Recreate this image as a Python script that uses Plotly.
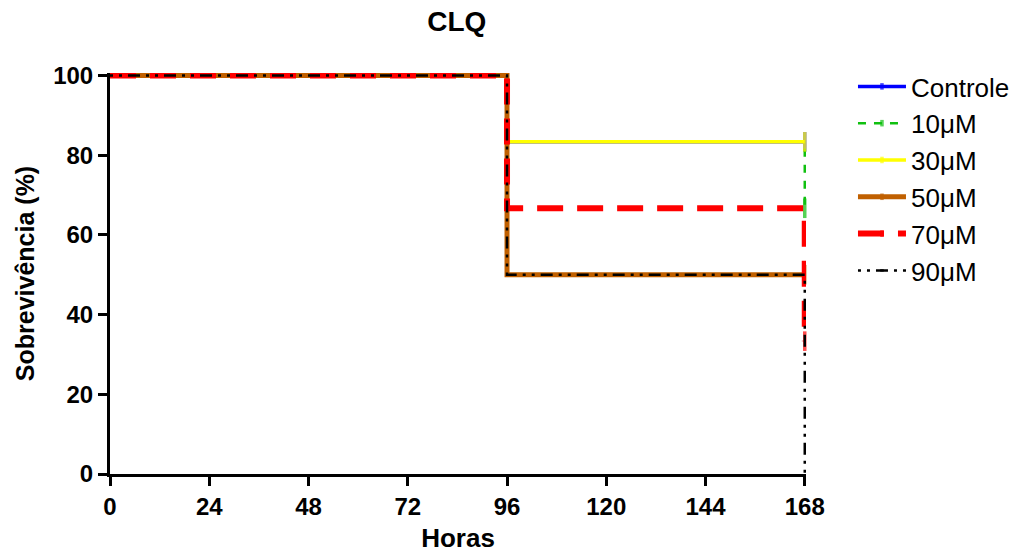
import plotly.graph_objects as go

# Kaplan-Meier survival (%) per concentration, evaluated at the event times
horas = [0, 96, 168]
series_names = ["Controle", "10\u03bcM", "30\u03bcM", "50\u03bcM", "70\u03bcM", "90\u03bcM"]
controle = [100, 83.33, 83.33]
c10 = [100, 83.33, 66.67]
c30 = [100, 83.33, 83.33]
c50 = [100, 50, 50]
c70 = [100, 66.67, 33.33]
c90 = [100, 50, 0]
# censored observation at the end of follow-up (1 = censored)
censurado = [
    [0, 0, 1],
    [0, 0, 1],
    [0, 0, 1],
    [0, 0, 1],
    [0, 0, 1],
    [0, 0, 0],
]
x_ticks = [0, 24, 48, 72, 96, 120, 144, 168]
y_ticks = [0, 20, 40, 60, 80, 100]

styles = [
    dict(color="#0000FF", width=3.5, dash="solid"),
    dict(color="#10C010", width=2.5, dash="8px,8px"),
    dict(color="#FFFF00", width=3.5, dash="solid"),
    dict(color="#C06000", width=5, dash="solid"),
    dict(color="#FF0000", width=6, dash="26px,14px"),
    dict(color="#000000", width=2.5, dash="3px,6px,3px,6px,12px,6px"),
]

FONT = "Liberation Sans, Arial"

fig = go.Figure()
for name, ys, cens, st in zip(series_names, [controle, c10, c30, c50, c70, c90], censurado, styles):
    fig.add_trace(go.Scatter(
        x=horas, y=ys, name=name, mode="lines+markers",
        line=dict(color=st["color"], width=st["width"], dash=st["dash"], shape="hv"),
        marker=dict(symbol="line-ns", size=[14 if c else 0 for c in cens],
                    line=dict(color=st["color"], width=3.5)),
        cliponaxis=False,
    ))

axis_font = dict(family=FONT, size=24, color="black")
fig.update_layout(
    width=1031, height=554,
    margin=dict(l=110, r=225, t=73, b=80, autoexpand=False),
    paper_bgcolor="white", plot_bgcolor="white",
    title=dict(text="<b>CLQ</b>", x=0.443, xanchor="center", y=0.962, yanchor="middle",
               font=dict(family=FONT, size=28, color="black")),
    font=dict(family=FONT, color="black"),
    legend=dict(x=1.0675, y=1.025, xanchor="left", yanchor="top",
                font=dict(family=FONT, size=26, color="black"),
                tracegroupgap=0, itemwidth=48, bgcolor="rgba(0,0,0,0)"),
    xaxis=dict(range=[0, 168.3], tickvals=x_ticks, ticktext=[f"<b>{v}</b>" for v in x_ticks],
               showgrid=False, zeroline=False, showline=True, linecolor="black", linewidth=3,
               ticks="outside", ticklen=9, tickwidth=3, tickcolor="black", tickfont=axis_font,
               automargin=False,
               title=dict(text="<b>Horas</b>", font=dict(family=FONT, size=26), standoff=11)),
    yaxis=dict(range=[0, 100.6], tickvals=y_ticks, ticktext=[f"<b>{v}</b>" for v in y_ticks],
               showgrid=False, zeroline=False, showline=True, linecolor="black", linewidth=3,
               ticks="outside", ticklen=9, tickwidth=3, tickcolor="black", tickfont=axis_font,
               automargin=False,
               title=dict(text="<b>Sobrevivência (%)</b>", font=dict(family=FONT, size=25), standoff=12)),
)

fig.write_html("out.html")
